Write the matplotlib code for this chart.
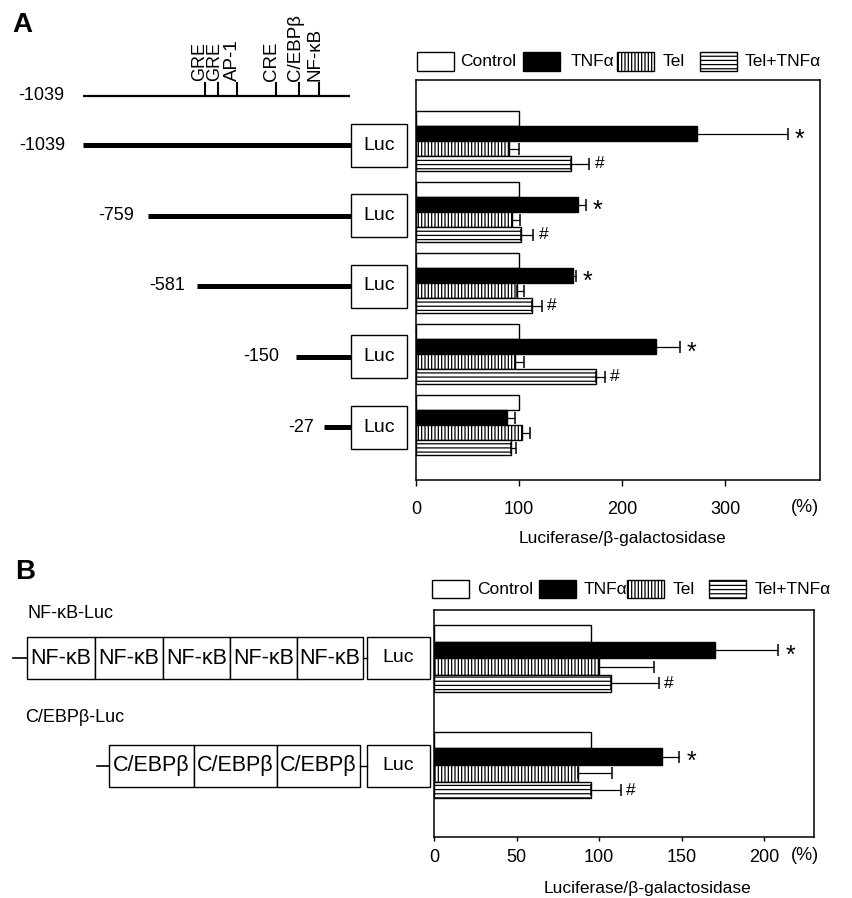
import matplotlib
matplotlib.use('Agg')
import matplotlib.pyplot as plt
from matplotlib.patches import Rectangle
import numpy as np

plt.rcParams['font.family'] = ['Liberation Sans', 'DejaVu Sans']
plt.rcParams['hatch.linewidth'] = 0.9
plt.rcParams['hatch.color'] = 'black'

# ---------------- data ----------------
series = ['Control', 'TNFα', 'Tel', 'Tel+TNFα']

constructs_a = ['-1039', '-759', '-581', '-150', '-27']
a_control = [100, 100, 100, 100, 100]
a_tnf = [273, 157, 152, 233, 88]
a_tnf_err = [88, 8, 3, 23, 8]
a_tel = [90, 93, 98, 96, 103]
a_tel_err = [10, 8, 7, 9, 8]
a_teltnf = [150, 102, 113, 175, 92]
a_teltnf_err = [18, 12, 9, 8, 5]
a_mark_tnf = ['*', '*', '*', '*', '']
a_mark_teltnf = ['#', '#', '#', '#', '']
a_ticks = [0, 100, 200, 300]
a_sites = ['GRE', 'GRE', 'AP-1', 'CRE', 'C/EBPβ', 'NF-κB']

constructs_b = ['NF-κB-Luc', 'C/EBPβ-Luc']
b_elements = [['NF-κB'] * 5, ['C/EBPβ'] * 3]
b_control = [95, 95]
b_tnf = [170, 138]
b_tnf_err = [38, 10]
b_tel = [100, 87]
b_tel_err = [33, 21]
b_teltnf = [107, 95]
b_teltnf_err = [29, 18]
b_mark_tnf = ['*', '*']
b_mark_teltnf = ['#', '#']
b_ticks = [0, 50, 100, 150, 200]

# ---------------- styles / layout ----------------
faces = ['white', 'black', 'white', 'white']
hatches = ['', '', '|||||', '----']

W, H = 853, 898
fig = plt.figure(figsize=(W / 100, H / 100), dpi=100)

ov = fig.add_axes([0, 0, 1, 1], zorder=0)
ov.set_xlim(0, W)
ov.set_ylim(H, 0)
ov.axis('off')


def px_axes(l, t, r, b):
    return fig.add_axes([l / W, 1 - b / H, (r - l) / W, (b - t) / H], zorder=2)


def draw_panel(ax, vals, errs, marks, bar_h, star_dx, hash_dx):
    n = len(vals[0])
    pos = np.arange(n)
    offs = (np.arange(4) - 1.5) * bar_h
    for k in range(4):
        ax.barh(pos + offs[k], vals[k], height=bar_h, color=faces[k],
                edgecolor='black', linewidth=1.0, hatch=hatches[k], zorder=2)
        if errs[k] is not None:
            ax.errorbar(vals[k], pos + offs[k],
                        xerr=[np.zeros(n), errs[k]], fmt='none',
                        ecolor='black', elinewidth=0.9, capsize=4.6,
                        capthick=1.1, zorder=3)
        if marks[k] is not None:
            for i in range(n):
                if marks[k][i]:
                    end = vals[k][i] + errs[k][i]
                    if marks[k][i] == '*':
                        ax.annotate('*', (end, pos[i] + offs[k]),
                                    xytext=(star_dx, -4), textcoords='offset points',
                                    ha='left', va='center', fontsize=18)
                    else:
                        ax.annotate('#', (end, pos[i] + offs[k]),
                                    xytext=(hash_dx, 0), textcoords='offset points',
                                    ha='left', va='center', fontsize=12.5)


# ---------------- Panel A bars ----------------
axA = px_axes(416, 80, 820, 480)
draw_panel(axA, [a_control, a_tnf, a_tel, a_teltnf],
           [None, a_tnf_err, a_tel_err, a_teltnf_err],
           [None, a_mark_tnf, None, a_mark_teltnf],
           15 / 71, 5, 4)
axA.set_xlim(0, 392)
axA.set_ylim(-0.866 + 400 / 71, -0.866)
axA.set_yticks([])
axA.set_xticks(a_ticks)
axA.tick_params(axis='x', direction='out', length=4, width=1, labelsize=13, pad=11)
for s in axA.spines.values():
    s.set_linewidth(1.1)
ov.text(805, 508, '(%)', ha='center', va='center', fontsize=13)
ov.text(623, 538, 'Luciferase/β-galactosidase', ha='center', va='center', fontsize=12.5)

# ---------------- Panel B bars ----------------
axB = px_axes(434, 610, 814, 837)
draw_panel(axB, [b_control, b_tnf, b_tel, b_teltnf],
           [None, b_tnf_err, b_tel_err, b_teltnf_err],
           [None, b_mark_tnf, None, b_mark_teltnf],
           16.7 / 106.7, 6, 4)
axB.set_xlim(0, 230)
axB.set_ylim(-0.453 + 227 / 106.7, -0.453)
axB.set_yticks([])
axB.set_xticks(b_ticks)
axB.tick_params(axis='x', direction='out', length=3, width=1, labelsize=13, pad=6)
for s in axB.spines.values():
    s.set_linewidth(1.1)
ov.text(805, 855, '(%)', ha='center', va='center', fontsize=13)
ov.text(648, 889, 'Luciferase/β-galactosidase', ha='center', va='center', fontsize=12.5)

# ---------------- legends ----------------
def legend(box_x, text_x, y0, h):
    for k in range(4):
        ov.add_patch(Rectangle((box_x[k], y0), 37, h, facecolor=faces[k],
                               edgecolor='black', linewidth=1.0, hatch=hatches[k]))
        ov.text(text_x[k], y0 + h / 2, series[k], ha='left', va='center', fontsize=12.5)

legend([417, 523, 617, 700], [460, 571, 663, 745], 52, 19)
legend([432, 539, 627, 709], [477, 584, 673, 755], 580, 18)

# ---------------- Panel A diagram ----------------
ov.text(12, 25, 'A', fontsize=20, fontweight='bold', ha='left', va='center')
map_y = 96
ov.plot([83, 350], [map_y, map_y], color='black', lw=1.6, solid_capstyle='butt')
site_x = [205, 217.7, 236.7, 276, 299.3, 319.3]
for sx in site_x:
    ov.plot([sx, sx], [83, map_y], color='black', lw=1.5)
# the two adjacent GRE sites are set as one two-line label
ov.text((site_x[0] + site_x[1]) / 2 - 4, 81, a_sites[0] + '\n' + a_sites[1],
        rotation=90, ha='center', va='bottom', fontsize=13, linespacing=0.82,
        multialignment='left')
for sx, name in zip(site_x[2:], a_sites[2:]):
    ov.text(sx - 4, 81, name, rotation=90, ha='center', va='bottom', fontsize=13.5)
ov.text(41, map_y, '-1039', ha='center', va='center', fontsize=13)

row_y = [145, 215.5, 286, 356.5, 427]
line_start = [83, 148, 197, 296, 324]
label_right = [65, 134, 185, 279, 314]
for name, ry, ls, lr in zip(constructs_a, row_y, line_start, label_right):
    ov.plot([ls, 351], [ry, ry], color='black', lw=3.6, solid_capstyle='butt')
    ov.add_patch(Rectangle((351, ry - 21.5), 56, 43, facecolor='white',
                           edgecolor='black', linewidth=1.0))
    ov.text(379, ry, 'Luc', ha='center', va='center', fontsize=14)
    ov.text(lr, ry, name, ha='right', va='center', fontsize=13)

# ---------------- Panel B diagram ----------------
ov.text(15, 572, 'B', fontsize=20, fontweight='bold', ha='left', va='center')
b_rows = [
    dict(label_xy=(28, 614), y=658, h=42.6, stub=(12.7, 26.7),
         edges=[26.7, 95, 163, 230, 296.7, 362.7]),
    dict(label_xy=(25, 718), y=766, h=41.7, stub=(96.7, 109.3),
         edges=[109.3, 194, 276.7, 360]),
]
for name, elems, r in zip(constructs_b, b_elements, b_rows):
    ov.text(r['label_xy'][0], r['label_xy'][1], name, ha='left', va='center', fontsize=13)
    ov.plot(r['stub'], [r['y'], r['y']], color='black', lw=1.2)
    e = r['edges']
    for i, el in enumerate(elems):
        ov.add_patch(Rectangle((e[i], r['y'] - r['h'] / 2), e[i + 1] - e[i], r['h'],
                               facecolor='white', edgecolor='black', linewidth=1.0))
        ov.text((e[i] + e[i + 1]) / 2, r['y'], el, ha='center', va='center', fontsize=15.5)
    ov.plot([e[-1], 366.7], [r['y'], r['y']], color='black', lw=1.0)
    ov.add_patch(Rectangle((366.7, r['y'] - r['h'] / 2), 63.3, r['h'],
                           facecolor='white', edgecolor='black', linewidth=1.0))
    ov.text(398, r['y'], 'Luc', ha='center', va='center', fontsize=14)

fig.savefig('out.png', dpi=100)
